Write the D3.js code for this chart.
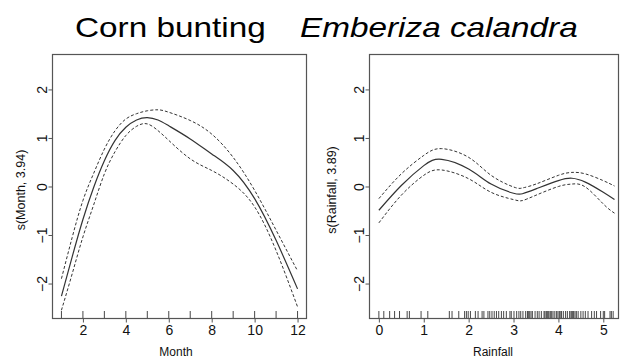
<!DOCTYPE html>
<html>
<head>
<meta charset="utf-8">
<script src="https://cdn.jsdelivr.net/npm/d3@7"></script>
<style>
  html, body { margin: 0; padding: 0; background: #fff; }
  svg { display: block; font-family: "Liberation Sans", Arial, sans-serif; }
</style>
</head>
<body>
<svg id="chart" width="621" height="358"></svg>
<script>
// ---- Data ----
const titleCommon = "Corn bunting";
const titleLatin = "Emberiza calandra";

const monthX      = [1, 1.5, 2, 2.5, 3, 3.5, 4, 4.5, 5, 5.5, 6, 7, 8, 9, 10, 11, 12];
const monthFit    = [-2.26, -1.45, -0.68, -0.02, 0.53, 0.95, 1.22, 1.37, 1.42, 1.37, 1.25, 0.98, 0.67, 0.33, -0.25, -1.11, -2.11];
const monthUpper  = [-1.90, -1.05, -0.29, 0.27, 0.77, 1.15, 1.39, 1.50, 1.56, 1.58, 1.53, 1.36, 1.08, 0.60, -0.08, -0.90, -1.74];
const monthLower  = [-2.55, -1.80, -1.04, -0.38, 0.26, 0.72, 1.05, 1.24, 1.29, 1.15, 0.95, 0.57, 0.33, 0.05, -0.42, -1.32, -2.48];
const monthRug    = [1, 2, 3, 4, 5, 6, 7, 8, 9, 10, 11, 12];
const monthTicks  = [2, 4, 6, 8, 10, 12];

const rainX       = [0, 0.5, 1, 1.4, 2, 2.5, 3, 3.2, 3.5, 4, 4.3, 4.6, 5, 5.25];
const rainFit     = [-0.49, 0.02, 0.43, 0.56, 0.36, 0.05, -0.14, -0.15, -0.05, 0.12, 0.17, 0.09, -0.12, -0.27];
const rainUpper   = [-0.25, 0.26, 0.64, 0.78, 0.60, 0.23, -0.01, -0.03, 0.05, 0.23, 0.29, 0.26, 0.12, 0.01];
const rainLower   = [-0.75, -0.18, 0.23, 0.34, 0.16, -0.12, -0.27, -0.29, -0.18, 0.00, 0.05, -0.01, -0.36, -0.55];
const rainRug     = [0.00, 0.11, 0.24, 0.35, 0.46, 0.63, 0.68, 0.94, 1.09, 1.57, 1.63, 1.78, 1.91, 1.95, 1.99,
                     2.04, 2.15, 2.21, 2.30, 2.34, 2.43, 2.47, 2.52, 2.57, 2.62, 2.67, 2.73, 2.78, 2.84, 2.92,
                     2.95, 3.01, 3.07, 3.12, 3.16, 3.21, 3.27, 3.31, 3.33, 3.36, 3.39, 3.42, 3.48, 3.53, 3.57,
                     3.62, 3.68, 3.70, 3.73, 3.75, 3.77, 3.79, 3.82, 3.85, 3.88, 3.92, 3.96, 3.99, 4.02, 4.04,
                     4.07, 4.11, 4.16, 4.20, 4.25, 4.28, 4.30, 4.32, 4.34, 4.37, 4.40, 4.44, 4.50, 4.55, 4.60,
                     4.66, 4.74, 4.80, 4.85, 4.94, 5.00, 5.03, 5.15, 5.18, 5.22];
const rainTicks   = [0, 1, 2, 3, 4, 5];

const yTicks = [-2, -1, 0, 1, 2];

// ---- Drawing ----
const svg = d3.select("#chart");
const lineCol = "#333";
const boxCol = "#555";

// Title
svg.append("text")
  .attr("transform", "translate(75,36.5) scale(1.19,1)")
  .attr("font-size", 28).attr("fill", "#000")
  .text(titleCommon);
svg.append("text")
  .attr("transform", "translate(300,36.5) scale(1.19,1)")
  .attr("font-size", 28).attr("font-style", "italic").attr("fill", "#000")
  .text(titleLatin);

function panel(cfg) {
  const x = d3.scaleLinear().domain(cfg.xDomain).range([cfg.left, cfg.right]);
  const y = d3.scaleLinear().domain([-2.71, 2.73]).range([318, 54]);
  const g = svg.append("g");

  // box
  g.append("rect")
    .attr("x", cfg.left + 0.5).attr("y", 54.5)
    .attr("width", cfg.right - cfg.left - 1).attr("height", 318 - 54)
    .attr("fill", "none").attr("stroke", boxCol).attr("stroke-width", 1.2);

  // x axis
  const xAxis = d3.axisBottom(x).tickValues(cfg.xTicks).tickSize(4).tickPadding(3)
    .tickFormat(d3.format("d"));
  const xg = g.append("g").attr("transform", "translate(0,318.5)").call(xAxis);
  xg.select(".domain").remove();
  xg.selectAll(".tick line").attr("stroke", boxCol);
  xg.selectAll(".tick text").attr("font-size", 14).attr("fill", "#111")
    .attr("font-family", "Liberation Sans, Arial, sans-serif");

  // y axis
  const yAxis = d3.axisLeft(y).tickValues(yTicks).tickSize(4).tickPadding(2)
    .tickFormat(d3.format("d"));
  const yg = g.append("g").attr("transform", `translate(${cfg.left + 0.5},0)`).call(yAxis);
  yg.select(".domain").remove();
  yg.selectAll(".tick line").attr("stroke", boxCol);
  yg.selectAll(".tick text")
    .attr("font-size", 14).attr("fill", "#111")
    .attr("font-family", "Liberation Sans, Arial, sans-serif")
    .attr("text-anchor", "middle")
    .attr("x", null).attr("dy", null)
    .attr("transform", "translate(-6,0) rotate(-90)");

  // axis labels
  g.append("text")
    .attr("x", cfg.xLabelX).attr("y", 356)
    .attr("text-anchor", "middle").attr("font-size", 12).attr("fill", "#111")
    .text(cfg.xLabel);
  g.append("text")
    .attr("transform", `translate(${cfg.yLabelX},190) rotate(-90)`)
    .attr("text-anchor", "middle").attr("font-size", 12.5).attr("fill", "#111")
    .text(cfg.yLabel);

  // rug
  g.selectAll("line.rug").data(cfg.rug).enter().append("line")
    .attr("class", "rug")
    .attr("x1", d => x(d)).attr("x2", d => x(d))
    .attr("y1", 318).attr("y2", 311)
    .attr("stroke", "#333").attr("stroke-width", 0.9);

  const line = d3.line().x((d, i) => x(cfg.xs[i])).y(d => y(d)).curve(d3.curveNatural);
  g.append("path").datum(cfg.fit).attr("d", line)
    .attr("fill", "none").attr("stroke", lineCol).attr("stroke-width", 1.2);
  [cfg.upper, cfg.lower].forEach(s => {
    g.append("path").datum(s).attr("d", line)
      .attr("fill", "none").attr("stroke", lineCol).attr("stroke-width", 1)
      .attr("stroke-dasharray", "3,2");
  });
}

panel({
  left: 52, right: 307, xDomain: [0.56, 12.44],
  xs: monthX, fit: monthFit, upper: monthUpper, lower: monthLower,
  rug: monthRug, xTicks: monthTicks,
  xLabel: "Month", xLabelX: 176, yLabel: "s(Month, 3.94)", yLabelX: 25
});
panel({
  left: 369, right: 619, xDomain: [-0.22, 5.35],
  xs: rainX, fit: rainFit, upper: rainUpper, lower: rainLower,
  rug: rainRug, xTicks: rainTicks,
  xLabel: "Rainfall", xLabelX: 493, yLabel: "s(Rainfall, 3.89)", yLabelX: 336
});
</script>
</body>
</html>
